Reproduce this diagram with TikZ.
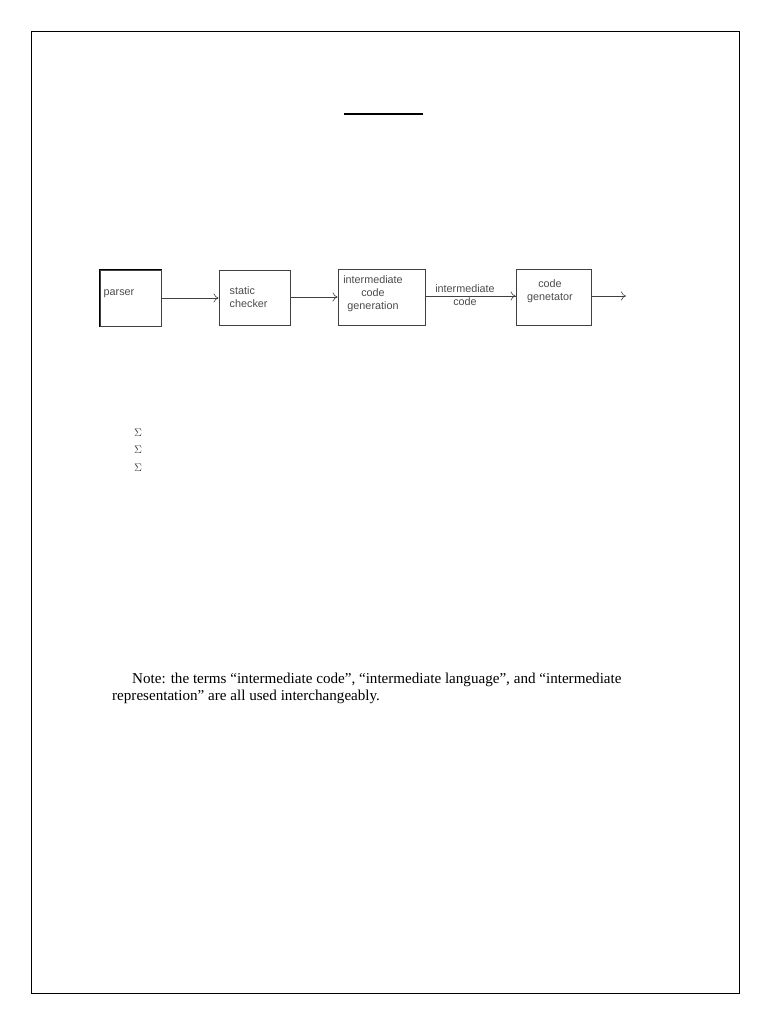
\documentclass[tikz,border=0pt]{standalone}
\usepackage{fontspec}
\setmainfont{Liberation Serif}
\newfontfamily\diagfont{Liberation Sans}
\usetikzlibrary{arrows.meta}
\begin{document}
\begin{tikzpicture}[x=1pt,y=-1pt,
  blk/.style={draw=black!75,line width=0.8pt,inner sep=0pt},
  lbl/.style={font=\diagfont\fontsize{10.8}{13}\selectfont,text=black!70,align=center,inner sep=0pt},
  conn/.style={draw=black!75,line width=0.6pt,-{To[length=5pt,width=9pt]}},
  sig/.style={font=\fontsize{11}{11}\selectfont,inner sep=0pt,text=black!75},
  notetext/.style={font=\fontsize{15.1}{17}\selectfont,anchor=base west,inner sep=0pt}]
\useasboundingbox (0,0) rectangle (768,1024);
\fill[white] (0,0) rectangle (768,1024);
\draw[line width=0.8pt] (31,31) rectangle (739,993);
% title rule
\draw[line width=1.3pt] (344,114) -- (423,114);
% blocks
\node[blk,minimum width=61pt,minimum height=56pt,line width=1pt] (parser) at (130.5,298) {};
\draw[line width=1.4pt] (parser.south west) -- (parser.north west) -- (parser.north east);
\node[lbl,anchor=west] (parsert) at (103.5,294) {parser};
\node[blk,minimum width=71pt,minimum height=55pt] (static) at (254.5,297.5) {};
\node[lbl,align=left,anchor=west] (statict) at (229.5,297.5) {static\\checker};
\node[blk,minimum width=87pt,minimum height=56pt] (icg) at (381.5,297) {};
\node[lbl] (icgt) at (373,294) {intermediate\\code\\generation};
\node[blk,minimum width=75pt,minimum height=56pt] (cg) at (553.5,297) {};
\node[lbl] (cgt) at (550,291) {code\\genetator};
\coordinate (out) at (626,296);
% connectors
\draw[conn] (parser.east |- 0,298) -- (static.west |- 0,298);
\draw[conn] (static.east |- 0,297) -- (icg.west |- 0,297);
\draw[conn] (icg.east |- 0,296) -- (cg.west |- 0,296);
\node[lbl,fill=white,inner ysep=0pt] (ic) at (465,295.5) {intermediate\\code};
\draw[draw=black!75,line width=0.6pt] (icg.east |- 0,296) -- (cg.west |- 0,296);
\draw[conn] (cg.east |- 0,296) -- (out);
% sigmas
\node[sig] (s1) at (138,433) {$\Sigma$};
\node[sig] (s2) at (138,450) {$\Sigma$};
\node[sig] (s3) at (138,468) {$\Sigma$};
% note
\node[notetext] (n1) at (132,683) {Note: the terms ``intermediate code'', ``intermediate language'', and ``intermediate};
\node[notetext] (n2) at (112,700) {representation'' are all used interchangeably.};
\end{tikzpicture}
\end{document}
